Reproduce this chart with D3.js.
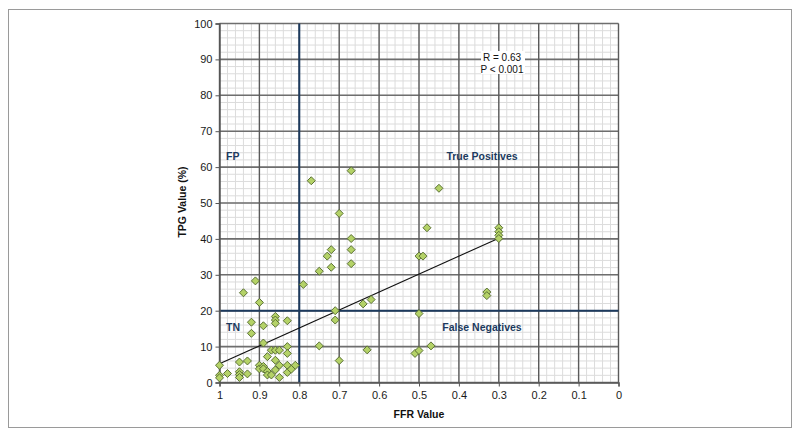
<!DOCTYPE html>
<html>
<head>
<meta charset="utf-8">
<script src="https://cdn.jsdelivr.net/npm/d3@7"></script>
<style>
  body { margin: 0; background: #fff; }
  svg { display: block; font-family: "Liberation Sans", Arial, sans-serif; }
</style>
</head>
<body>
<div id="chart"></div>
<script>
// FFR values (x) and TPG values (y)
const ffr = [
  1.0, 1.0, 1.0, 0.98, 0.95, 0.95, 0.95, 0.95, 0.94, 0.93, 0.93,
  0.92, 0.92, 0.91, 0.90, 0.90, 0.90, 0.89, 0.89, 0.89, 0.89,
  0.88, 0.88, 0.88, 0.87, 0.87, 0.86, 0.86, 0.86, 0.86, 0.86, 0.86,
  0.85, 0.85, 0.85, 0.83, 0.83, 0.83, 0.83, 0.83, 0.82, 0.81,
  0.79, 0.77, 0.75, 0.75, 0.73, 0.72, 0.72, 0.71, 0.71, 0.70, 0.70,
  0.67, 0.67, 0.67, 0.67, 0.64, 0.62, 0.63,
  0.51, 0.50, 0.50, 0.49, 0.50, 0.48, 0.47, 0.45,
  0.33, 0.33, 0.30, 0.30, 0.30, 0.30
];
const tpg = [
  4.8, 2.0, 1.3, 2.5, 5.7, 3.0, 2.2, 1.4, 25.0, 6.0, 2.4,
  16.8, 13.7, 28.3, 22.3, 4.8, 3.8, 15.8, 11.0, 4.5, 3.8,
  7.2, 3.1, 2.1, 9.0, 2.1, 18.4, 17.4, 16.5, 9.0, 6.2, 3.5,
  9.0, 4.8, 1.4, 17.2, 10.0, 8.1, 4.8, 2.8, 3.7, 4.8,
  27.3, 56.2, 31.0, 10.2, 35.2, 37.0, 32.1, 20.0, 17.4, 47.1, 6.1,
  59.0, 40.1, 37.0, 33.1, 21.9, 23.1, 9.1,
  8.1, 8.9, 35.2, 35.2, 19.2, 43.1, 10.2, 54.1,
  25.2, 24.2, 43.1, 42.0, 41.0, 40.1
];
// regression line end points
const trendFfr = [1.0, 0.3];
const trendTpg = [5.2, 40.2];

const xTicks = [1, 0.9, 0.8, 0.7, 0.6, 0.5, 0.4, 0.3, 0.2, 0.1, 0];
const yTicks = [0, 10, 20, 30, 40, 50, 60, 70, 80, 90, 100];
const ffrCutoff = 0.8;
const tpgCutoff = 20;

const W = 800, H = 436;
const svg = d3.select("#chart").append("svg")
    .attr("width", W).attr("height", H);

// outer frame
svg.append("rect")
    .attr("x", 8.5).attr("y", 9.5)
    .attr("width", 783).attr("height", 418)
    .attr("fill", "#fff").attr("stroke", "#9a9a9a").attr("stroke-width", 1);

const xScale = d3.scaleLinear().domain([1, 0]).range([219.5, 618.5]);
const yScale = d3.scaleLinear().domain([0, 100]).range([382.5, 23.5]);

const g = svg.append("g");

// minor grid
const minorX = d3.range(0, 1.0001, 0.02);
const minorY = d3.range(0, 100.001, 2);
g.selectAll(".mx").data(minorX).enter().append("line")
    .attr("x1", d => xScale(d)).attr("x2", d => xScale(d))
    .attr("y1", yScale(0)).attr("y2", yScale(100))
    .attr("stroke", "#dcdcdc").attr("stroke-width", 1);
g.selectAll(".my").data(minorY).enter().append("line")
    .attr("x1", xScale(1)).attr("x2", xScale(0))
    .attr("y1", d => yScale(d)).attr("y2", d => yScale(d))
    .attr("stroke", "#dcdcdc").attr("stroke-width", 1);

// major grid
g.selectAll(".gy").data(yTicks).enter().append("line")
    .attr("x1", xScale(1)).attr("x2", xScale(0))
    .attr("y1", d => yScale(d)).attr("y2", d => yScale(d))
    .attr("stroke", "#6e6e6e").attr("stroke-width", 1.6);
g.selectAll(".gx").data(xTicks).enter().append("line")
    .attr("x1", d => xScale(d)).attr("x2", d => xScale(d))
    .attr("y1", yScale(0)).attr("y2", yScale(100))
    .attr("stroke", "#5a5a5a").attr("stroke-width", 1.4);

// box behind the statistics
g.append("rect")
    .attr("x", 481).attr("y", 51)
    .attr("width", 44).attr("height", 23)
    .attr("fill", "#fff");

// cut-off lines
g.append("line")
    .attr("x1", xScale(ffrCutoff)).attr("x2", xScale(ffrCutoff))
    .attr("y1", yScale(0)).attr("y2", yScale(100))
    .attr("stroke", "#1c3a5e").attr("stroke-width", 2);
g.append("line")
    .attr("x1", xScale(1)).attr("x2", xScale(0))
    .attr("y1", yScale(tpgCutoff)).attr("y2", yScale(tpgCutoff))
    .attr("stroke", "#1c3a5e").attr("stroke-width", 2);

// axes
const yAxis = d3.axisLeft(yScale).tickValues(yTicks).tickSize(4).tickPadding(3);
const yG = g.append("g").attr("transform", `translate(${xScale(1)},0)`).call(yAxis);
const xAxis = d3.axisBottom(xScale).tickValues(xTicks).tickSize(4).tickPadding(5)
    .tickFormat(d => d === 0 || d === 1 ? d : d3.format(".1f")(d));
const xG = g.append("g").attr("transform", `translate(0,${yScale(0)})`).call(xAxis);
[yG, xG].forEach(a => {
    a.select(".domain").attr("stroke", "#555").attr("stroke-width", 1.4);
    a.selectAll(".tick line").attr("stroke", "#555");
    a.selectAll("text").attr("font-size", 11).attr("fill", "#1a1a1a")
        .attr("font-family", "Liberation Sans, Arial, sans-serif");
});

// regression line
g.append("line")
    .attr("x1", xScale(trendFfr[0])).attr("y1", yScale(trendTpg[0]))
    .attr("x2", xScale(trendFfr[1])).attr("y2", yScale(trendTpg[1]))
    .attr("stroke", "#111").attr("stroke-width", 1.1);

// points
const pts = ffr.map((f, i) => ({ f: f, t: tpg[i] }));
const diamond = d3.symbol().type(d3.symbolSquare).size(32);
g.selectAll(".pt").data(pts).enter().append("path")
    .attr("d", diamond)
    .attr("transform", d => `translate(${xScale(d.f)},${yScale(d.t)}) rotate(45)`)
    .attr("fill", "#b4d267").attr("stroke", "#556b2f").attr("stroke-width", 0.9);

// quadrant labels
const quad = [
    { text: "FP", x: 226, y: 160, anchor: "start" },
    { text: "True Positives", x: 482, y: 160, anchor: "middle" },
    { text: "TN", x: 226, y: 331, anchor: "start" },
    { text: "False Negatives", x: 482, y: 331, anchor: "middle" }
];
g.selectAll(".quad").data(quad).enter().append("text")
    .attr("x", d => d.x).attr("y", d => d.y)
    .attr("text-anchor", d => d.anchor)
    .attr("font-size", 10.5).attr("font-weight", "bold")
    .attr("fill", "#1c3a5e")
    .text(d => d.text);

// statistics
g.append("text").attr("x", 502).attr("y", 61).attr("text-anchor", "middle")
    .attr("font-size", 10).attr("fill", "#111").text("R = 0.63");
g.append("text").attr("x", 502).attr("y", 73).attr("text-anchor", "middle")
    .attr("font-size", 10).attr("fill", "#111").text("P < 0.001");

// axis titles
svg.append("text")
    .attr("x", 419).attr("y", 418).attr("text-anchor", "middle")
    .attr("font-size", 10.5).attr("font-weight", "bold").attr("fill", "#111")
    .text("FFR Value");
svg.append("text")
    .attr("transform", "translate(186,202) rotate(-90)")
    .attr("text-anchor", "middle")
    .attr("font-size", 10.5).attr("font-weight", "bold").attr("fill", "#111")
    .text("TPG Value (%)");
</script>
</body>
</html>
